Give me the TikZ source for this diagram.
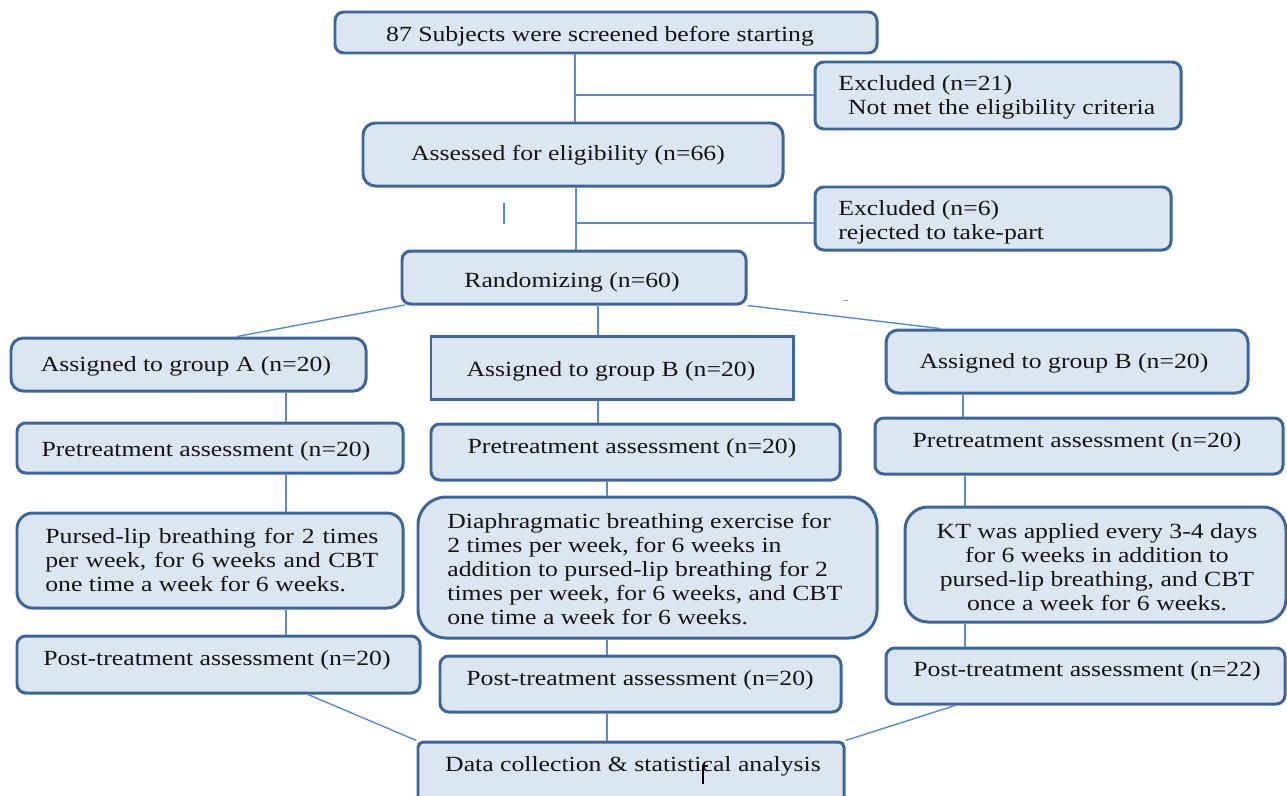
\documentclass[tikz,border=0pt]{standalone}
\usepackage{fontspec}
\setmainfont{Liberation Serif}[FakeStretch=1.19]
\definecolor{boxfill}{HTML}{DCE6F2}
\definecolor{boxline}{HTML}{3F6594}
\definecolor{connc}{HTML}{5B8BC8}
\tikzset{
  box/.style={draw=boxline, fill=boxfill, line width=1.7pt, rounded corners=5pt, inner sep=0pt},
  lbl/.style={inner sep=0pt, font=\fontsize{12.3}{13.7}\selectfont, text=black!92},
  conn/.style={draw=connc, line width=0.8pt},
}
\newcommand\bx[6]{%
  \pgfmathsetmacro\bw{(#4-#2)*0.02}\pgfmathsetmacro\bh{(#5-#3)*0.02}%
  \node[box,#6,minimum width=\bw cm,minimum height=\bh cm] (#1) at ({(#2+#4)/2},{(#3+#5)/2}) {};}
\begin{document}
\begin{tikzpicture}[x=0.02cm,y=-0.02cm]
\useasboundingbox (0,0) rectangle (1287,795);
% boxes
\bx{scr}{335}{12}{877}{53}{}
\bx{exa}{815}{62}{1181}{129}{}
\bx{ass}{363}{123}{783}{186}{rounded corners=7pt}
\bx{exb}{815}{187}{1171}{250}{}
\bx{rnd}{402}{251}{746}{304}{}
\bx{ga}{11}{338}{366}{391}{rounded corners=7pt}
\bx{gb}{431}{336}{793}{399}{rounded corners=0pt}
\bx{gc}{886}{330}{1248}{393}{rounded corners=7pt}
\bx{pa}{17}{423}{403}{473}{}
\bx{pb}{431}{424}{840}{480}{}
\bx{pc}{875}{418}{1283}{474}{}
\bx{ta}{17}{513}{403}{608}{rounded corners=9pt}
\bx{tb}{418}{497}{877}{638}{rounded corners=16pt}
\bx{tc}{905}{507}{1286}{622}{rounded corners=13pt}
\bx{qa}{17}{636}{420}{693}{}
\bx{qb}{440}{656}{841}{712}{}
\bx{qc}{886}{648}{1285}{704}{}
\bx{dat}{418}{742}{844}{805}{rounded corners=3pt}
% texts
\node[lbl,anchor=base] (scr-t) at (600,41) {87 Subjects were screened before starting};
\node[lbl,anchor=north west,align=left] (exa-t) at (838,75.5) {Excluded (n=21)\\\hspace*{0.45em}Not met the eligibility criteria};
\node[lbl,anchor=base] (ass-t) at (568,160) {Assessed for eligibility (n=66)};
\node[lbl,anchor=north west,align=left] (exb-t) at (838,200.5) {Excluded (n=6)\\rejected to take-part};
\node[lbl,anchor=base] (rnd-t) at (572,287) {Randomizing (n=60)};
\node[lbl,anchor=base] (ga-t) at (186,371) {Assigned to group A (n=20)};
\node[lbl,anchor=base] (gb-t) at (611,376) {Assigned to group B (n=20)};
\node[lbl,anchor=base] (gc-t) at (1064,368) {Assigned to group B (n=20)};
\node[lbl,anchor=base] (pa-t) at (206,456) {Pretreatment assessment (n=20)};
\node[lbl,anchor=base] (pb-t) at (632,453) {Pretreatment assessment (n=20)};
\node[lbl,anchor=base] (pc-t) at (1077,447) {Pretreatment assessment (n=20)};
\node[lbl,anchor=north west,align=justify,text width=6.66cm] (ta-t) at (45,528)
  {Pursed-lip breathing for 2 times per week, for 6 weeks and CBT one time a week for 6 weeks.};
\node[lbl,anchor=north west,align=left] (tb-t) at (447,513)
  {Diaphragmatic breathing exercise for\\2 times per week, for 6 weeks in\\addition to pursed-lip breathing for 2\\times per week, for 6 weeks, and CBT\\one time a week for 6 weeks.};
\node[lbl,anchor=north,align=center] (tc-t) at (1097,523)
  {KT was applied every 3-4 days\\for 6 weeks in addition to\\pursed-lip breathing, and CBT\\once a week for 6 weeks.};
\node[lbl,anchor=base] (qa-t) at (217,665) {Post-treatment assessment (n=20)};
\node[lbl,anchor=base] (qb-t) at (640,685) {Post-treatment assessment (n=20)};
\node[lbl,anchor=base] (qc-t) at (1087,676) {Post-treatment assessment (n=22)};
\node[lbl,anchor=base] (dat-t) at (633,771) {Data collection \& statistical analysis};
% junction coordinates
\coordinate (x1) at (575,0);
\coordinate (j1) at (575,95);
\coordinate (x2) at (576,0);
\coordinate (j2) at (576,223);
\coordinate (xm) at (598,0);
\coordinate (xb) at (607,0);
\coordinate (xa) at (286,0);
\coordinate (xc1) at (963,0);
\coordinate (xc2) at (965,0);
\coordinate (ra) at (405,305);
\coordinate (ga-in) at (237,0);
\coordinate (gc-in) at (940,0);
\coordinate (qa-out) at (308,0);
\coordinate (qc-out) at (955,0);
\coordinate (m1) at (504,203);
\coordinate (m2) at (504,224);
\coordinate (c1) at (703,784);
\coordinate (c2) at (703,766);
\coordinate (c3) at (708,766);
\coordinate (d1) at (843,300);
\coordinate (d2) at (848,300);
% connectors
\draw[conn] (scr.south -| x1) -- (ass.north -| x1);
\draw[conn] (j1) -- (j1 -| exa.west);
\draw[conn] (ass.south -| x2) -- (rnd.north -| x2);
\draw[conn] (j2) -- (j2 -| exb.west);
\draw[conn] (m1) -- (m2);
\draw[conn] (rnd.south -| xm) -- (gb.north -| xm);
\draw[conn] (ra) -- (ga.north -| ga-in);
\draw[conn] (rnd.south east) -- (gc.north -| gc-in);
\draw[conn] (ga.south -| xa) -- (pa.north -| xa);
\draw[conn] (pa.south -| xa) -- (ta.north -| xa);
\draw[conn] (ta.south -| xa) -- (qa.north -| xa);
\draw[conn] (gb.south -| xm) -- (pb.north -| xm);
\draw[conn] (pb.south -| xb) -- (tb.north -| xb);
\draw[conn] (tb.south -| xb) -- (qb.north -| xb);
\draw[conn] (qb.south -| xb) -- (dat.north -| xb);
\draw[conn] (gc.south -| xc1) -- (pc.north -| xc1);
\draw[conn] (pc.south -| xc2) -- (tc.north -| xc2);
\draw[conn] (tc.south -| xc2) -- (qc.north -| xc2);
\draw[conn] (qa.south -| qa-out) -- (dat.north west);
\draw[conn] (qc.south -| qc-out) -- (dat.north east);
\draw[black, line width=0.6pt] (c1) -- (c2) -- (c3);
\draw[black!40, line width=0.5pt] (d1) -- (d2);
\end{tikzpicture}
\end{document}
